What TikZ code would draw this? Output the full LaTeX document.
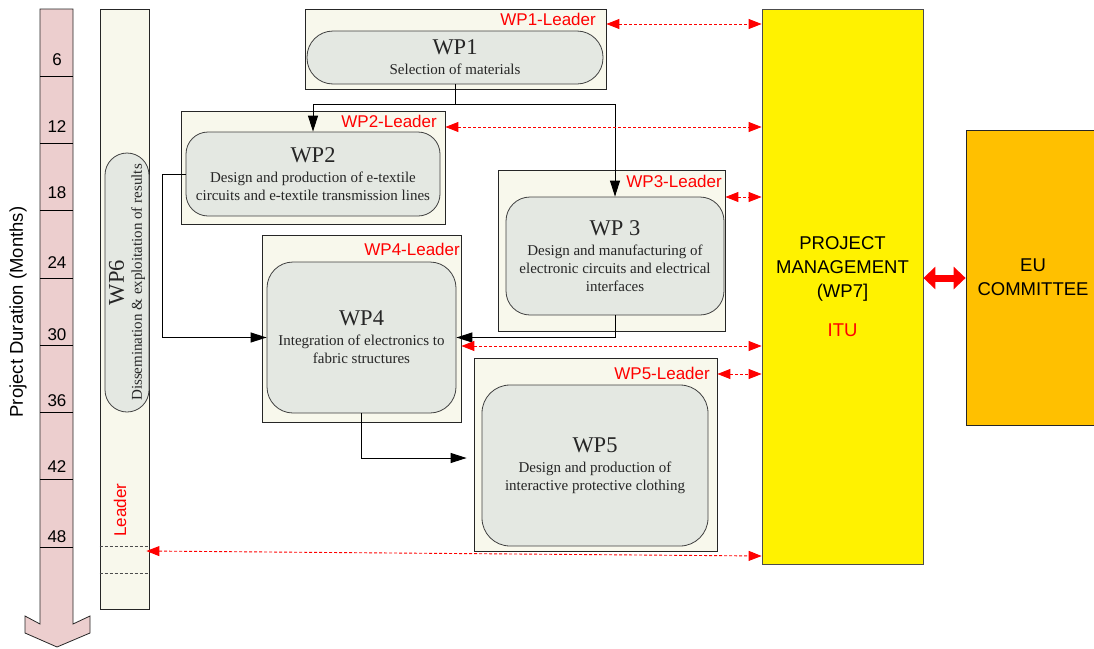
\documentclass[tikz,border=0pt]{standalone}
\usepackage{fontspec}
\setmainfont{Liberation Serif}
\setsansfont{Liberation Sans}
\usetikzlibrary{arrows.meta,calc}

\definecolor{cream}{RGB}{248,248,236}
\definecolor{wpgrey}{RGB}{228,232,226}
\definecolor{pinkbar}{RGB}{236,206,206}
\definecolor{euorange}{RGB}{255,192,0}

\newcommand{\wptitle}[1]{{\fontsize{22.5}{24}\selectfont #1}}
\newcommand{\descfont}{\fontsize{15}{18}\selectfont}
\newcommand{\labfont}{\sffamily\fontsize{17}{20}\selectfont}
\newcommand{\pmfont}{\sffamily\fontsize{18.5}{24}\selectfont}

\begin{document}
\begin{tikzpicture}[x=1pt,y=-1pt,
	outer/.style={draw=black!85,fill=cream,line width=0.8pt,inner sep=0pt},
	inner/.style={draw=black!75,fill=wpgrey,line width=0.8pt,align=center,font=\descfont,text=black!85,inner sep=2pt},
	lead/.style={text=red,font=\labfont,anchor=east,inner sep=0pt},
	flow/.style={-{Triangle[length=16pt,width=10pt]},line width=1pt},
	pmlink/.style={red,line width=0.9pt,dash pattern=on 3pt off 2pt,{Triangle[length=13pt,width=10pt]}-{Triangle[length=13pt,width=10pt]}},
	bigarrow/.style={red,line width=7pt,{Triangle[length=12pt,width=22pt]}-{Triangle[length=12pt,width=22pt]}}]
	\useasboundingbox (0,0) rectangle (1094,648);

	% time line
	\draw[fill=pinkbar,draw=black!85,line width=0.8pt] (40,9) -- (73,9) -- (73,624) -- (90,616) -- (90,633) -- (57,647) -- (25,633) -- (25,616) -- (40,624) -- cycle;
	\foreach \m/\yb [count=\i] in {6/66,12/133,18/199,24/269,30/341,36/407,42/473,48/543} {
		\draw[line width=0.8pt] (40,9+67.25*\i) -- (73,9+67.25*\i);
		\node[font=\labfont,anchor=south,inner sep=0pt] (m\m) at (57,\yb) {\m};
	}
	\node[font=\sffamily\fontsize{18.5}{20}\selectfont,rotate=90] (dur) at (18,312) {Project Duration (Months)};

	% WP6 column
	\node[outer,minimum width=49pt,minimum height=600pt] (wp6col) at (124.5,309) {};
	\node[inner,rounded corners=22pt,rotate=90,minimum width=259pt,minimum height=44pt,inner sep=0pt] (wp6) at (127,282.5) {\wptitle{WP6}\\Dissemination \& exploitation of results};
	\node[text=red,font=\labfont,rotate=90,inner sep=0pt] (wp6lead) at (120,510) {Leader};
	\draw[black!70,line width=0.8pt,dash pattern=on 3pt off 2pt] (wp6col.west |- 0,546) -- (wp6col.east |- 0,546);
	\draw[black!70,line width=0.8pt,dash pattern=on 3pt off 2pt] (wp6col.west |- 0,573) -- (wp6col.east |- 0,573);

	% work packages
	\node[outer,minimum width=301pt,minimum height=80pt] (wp1box) at (455.5,49) {};
	\node[inner,rounded corners=26pt,minimum width=296pt,minimum height=53pt] (wp1) at (455,57.5) {\wptitle{WP1}\\[2pt]Selection of materials};
	\node[lead] (wp1lead) at (596,19.5) {WP1-Leader};

	\node[outer,minimum width=264pt,minimum height=113pt] (wp2box) at (313,167.5) {};
	\node[inner,rounded corners=22pt,minimum width=254pt,minimum height=84pt] (wp2) at (313,174) {\wptitle{WP2}\\[2pt]Design and production of e-textile\\circuits and e-textile transmission lines};
	\node[lead] (wp2lead) at (437,121.5) {WP2-Leader};

	\node[outer,minimum width=227pt,minimum height=161pt] (wp3box) at (611.5,250.5) {};
	\node[inner,rounded corners=24pt,minimum width=218pt,minimum height=118pt] (wp3) at (615,256) {\wptitle{WP 3}\\[2pt]Design and manufacturing of\\electronic circuits and electrical\\interfaces};
	\node[lead] (wp3lead) at (722,181) {WP3-Leader};

	\node[outer,minimum width=199pt,minimum height=187pt] (wp4box) at (361.5,328.5) {};
	\node[inner,rounded corners=26pt,minimum width=189pt,minimum height=151pt] (wp4) at (361.5,337.5) {\wptitle{WP4}\\[2pt]Integration of electronics to\\fabric structures};
	\node[lead] (wp4lead) at (460,249) {WP4-Leader};

	\node[outer,minimum width=243pt,minimum height=193pt] (wp5box) at (595.5,454.5) {};
	\node[inner,rounded corners=28pt,minimum width=226pt,minimum height=161pt] (wp5) at (595,465.5) {\wptitle{WP5}\\[2pt]Design and production of\\interactive protective clothing};
	\node[lead] (wp5lead) at (710,373) {WP5-Leader};

	% management and committee
	\node[draw=black!70,fill=yellow,line width=0.8pt,minimum width=161pt,minimum height=555pt,align=center,font=\pmfont] (pm) at (842.5,286.5) {PROJECT\\MANAGEMENT\\(WP7]\\[15pt]\textcolor{red}{ITU}};
	\node[draw=black!85,fill=euorange,line width=0.8pt,minimum width=134pt,minimum height=295pt,align=center,font=\pmfont] (eu) at (1033,277.5) {EU\\COMMITTEE};

	% flow between work packages
	\draw[flow] (wp1.south) -- ++(0,20) -| (wp2.north);
	\draw[flow] (wp1.south) -- ++(0,20) -| (wp3.north);
	\draw[flow] (wp2.west) -- ++(-23,0) |- (wp4.west);
	\draw[flow] (wp3.south) |- (wp4.east);
	\draw[flow] (wp4.south) |- ([xshift=-7pt,yshift=-3.5pt]wp5box.west);

	% links to management
	\draw[pmlink] (wp1box.east |- 0,24) -- (pm.west |- 0,24);
	\draw[pmlink] (wp2box.east |- 0,127) -- (pm.west |- 0,127);
	\draw[pmlink] (wp3box.east |- 0,197) -- (pm.west |- 0,197);
	\draw[pmlink] (wp4box.east |- 0,346) -- (pm.west |- 0,346);
	\draw[pmlink] (wp5box.east |- 0,374) -- (pm.west |- 0,374);
	\draw[pmlink] ($(wp6col.east |- 0,551)+(-3,0)$) -- (pm.west |- 0,556);
	\draw[bigarrow] (pm.east |- 0,278) -- (eu.west |- 0,278);
\end{tikzpicture}
\end{document}
